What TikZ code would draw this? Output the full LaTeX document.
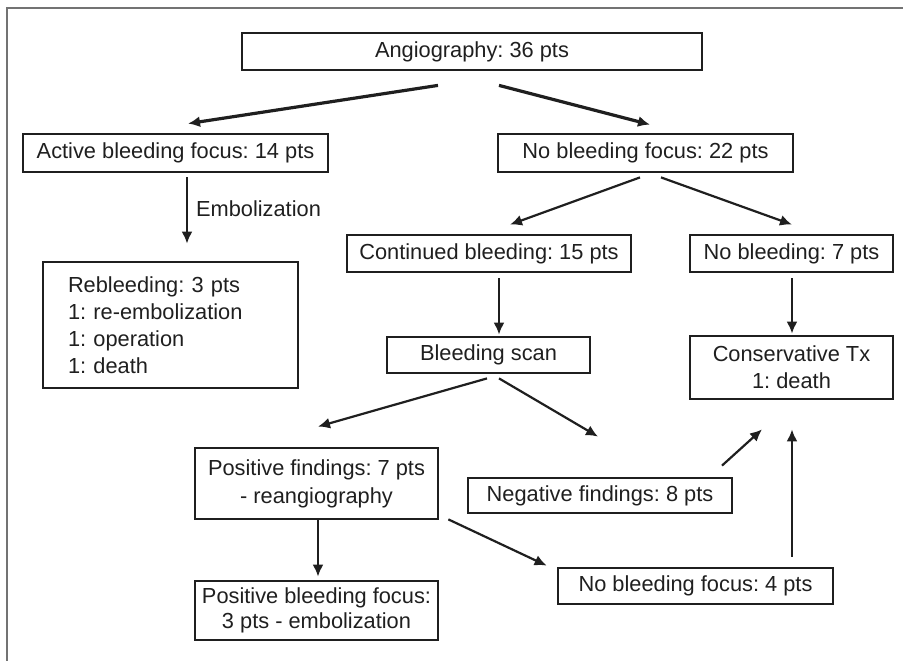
\documentclass[tikz,border=0pt]{standalone}
\usepackage{fontspec}
\setmainfont{Liberation Sans}
\usetikzlibrary{arrows.meta}
\frenchspacing

\begin{document}
\begin{tikzpicture}[
    x=1pt, y=-1pt,
    font=\fontsize{21.8}{27}\selectfont,
    box/.style={draw=black!88, line width=2.8pt, text=black!88,
        inner sep=0pt, align=center},
    link/.style={-{Latex[length=12pt,width=11pt]}, line width=2.2pt, draw=black!88},
    biglink/.style={link, line width=3.2pt},
    tag/.style={text=black!88, anchor=west, inner sep=0pt},
]
\useasboundingbox (0,0) rectangle (903,661);

% ---- frame ----
\draw[line width=1.5pt, black!55] (7,661) |- (903,8);

% ---- top ----
\node[box, minimum width=460pt, minimum height=37pt] (angio) at (472,51.5) {Angiography: 36 pts};
\node[box, minimum width=305pt, minimum height=38pt] (active) at (175.5,153) {Active bleeding focus: 14 pts};
\node[box, minimum width=295pt, minimum height=38pt] (nofocus) at (645.5,153) {No bleeding focus: 22 pts};

% ---- left branch ----
\node[box, minimum width=255pt, minimum height=126pt, text width=205pt, align=left] (rebleed) at (170.5,325)
    {Rebleeding: 3 pts\\ 1: re-embolization\\ 1: operation\\ 1: death};

% ---- right branch ----
\node[box, minimum width=284pt, minimum height=37pt] (contd) at (489,253.5) {Continued bleeding: 15 pts};
\node[box, minimum width=203pt, minimum height=37pt] (nobleed) at (791.5,253.5) {No bleeding: 7 pts};
\node[box, minimum width=203pt, minimum height=36pt] (scan) at (488.5,355) {Bleeding scan};
\node[box, minimum width=203pt, minimum height=63pt] (conserv) at (791.5,367.5) {Conservative Tx\\ 1: death};

% ---- scan results ----
\node[box, minimum width=243pt, minimum height=71pt] (posfind) at (316.5,483.5)
    {Positive findings: 7 pts\\[1pt] - reangiography};
\node[box, minimum width=264pt, minimum height=35pt] (negfind) at (600,495.5) {Negative findings: 8 pts};
\node[box, minimum width=275pt, minimum height=36pt] (nofocus4) at (695.5,586) {No bleeding focus: 4 pts};
\node[box, minimum width=243pt, minimum height=59pt] (posfocus) at (316.5,610.5)
    {Positive bleeding focus:\\[-2pt] 3 pts - embolization};

% ---- links ----
\draw[biglink] ([shift={(-34,14)}]angio.south) -- ([shift={(12.5,-9)}]active.north);
\draw[biglink] ([shift={(27,14)}]angio.south) -- ([shift={(4.5,-8)}]nofocus.north);
\draw[link] ([shift={(11.5,4)}]active.south) -- ([shift={(16.5,-17)}]rebleed.north)
    node[midway, tag, xshift=8pt, yshift=1.5pt] {Embolization};
\draw[link] ([shift={(-5.5,4)}]nofocus.south) -- ([shift={(21,-9)}]contd.north);
\draw[link] ([shift={(15.5,4)}]nofocus.south) -- ([shift={(0.5,-9)}]nobleed.north);
\draw[link] ([shift={(10,5)}]contd.south) -- ([shift={(10.5,-1)}]scan.north);
\draw[link] ([shift={(0.5,5)}]nobleed.south) -- ([shift={(0.5,-1)}]conserv.north);
\draw[link] ([shift={(-1.5,4)}]scan.south) -- ([shift={(1.5,-20)}]posfind.north);
\draw[link] ([shift={(10.5,4)}]scan.south) -- ([shift={(-2,-40)}]negfind.north);
\draw[link] ([shift={(122,-11)}]negfind.north) -- ([shift={(-29.5,29)}]conserv.south);
\draw[link] ([shift={(96.5,-10)}]nofocus4.north) -- ([shift={(0.5,29)}]conserv.south);
\draw[link] ([shift={(9,-1)}]posfind.south east) -- ([shift={(-10,-1)}]nofocus4.north west);
\draw[link] ([shift={(1.5,0)}]posfind.south) -- ([shift={(1.5,-3)}]posfocus.north);

\end{tikzpicture}
\end{document}
